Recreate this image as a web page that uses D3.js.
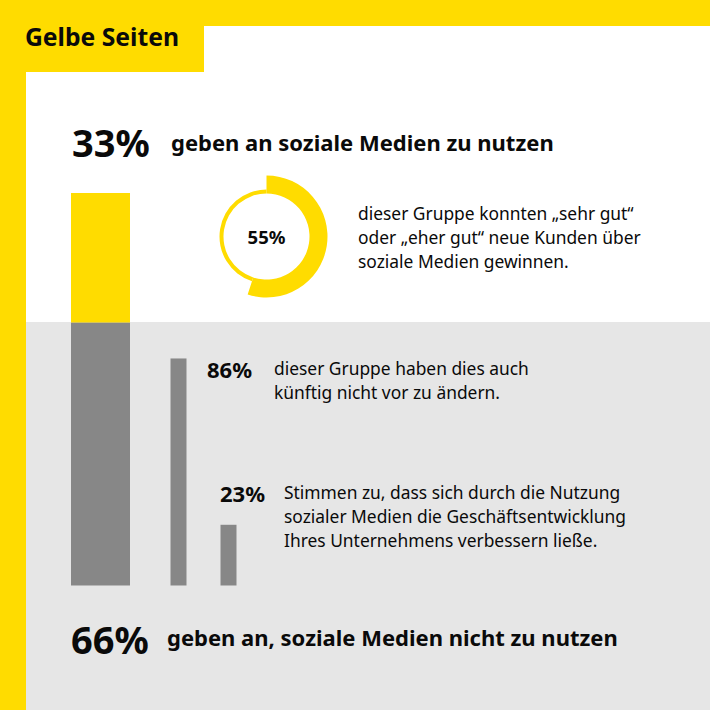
<!DOCTYPE html>
<html>
<head>
<meta charset="utf-8">
<script src="https://cdn.jsdelivr.net/npm/d3@7"></script>
<style>
  html, body { margin: 0; padding: 0; background: #fff; }
  text { font-family: "Noto Sans", sans-serif; fill: #0a0a0a; }
</style>
</head>
<body>
<div id="chart"></div>
<script>
'use strict'
/* global d3 */

// Values
const mainLabels = ['33%', '66%']
const mainValues = [33, 66]
const mainTexts = ['geben an soziale Medien zu nutzen', 'geben an, soziale Medien nicht zu nutzen']
const donutValues = [55, 45]
const donutLabel = '55%'
const donutLines = ['dieser Gruppe konnten „sehr gut“', 'oder „eher gut“ neue Kunden über', 'soziale Medien gewinnen.']
const subValues = [86, 23]
const subLabels = ['86%', '23%']
const subLines = [
  ['dieser Gruppe haben dies auch', 'künftig nicht vor zu ändern.'],
  ['Stimmen zu, dass sich durch die Nutzung', 'sozialer Medien die Geschäftsentwicklung', 'Ihres Unternehmens verbessern ließe.']
]
const brand = 'Gelbe Seiten'

const width = 710,
  height = 710,
  yellow = '#ffdc00',
  grey = '#e6e6e6',
  barGrey = '#878787'

const svg = d3.select('#chart')
  .append('svg')
  .attr('width', width)
  .attr('height', height)
  .style('display', 'block')

// Background and frame
svg.append('rect').attr('x', 26).attr('y', 322).attr('width', width - 26).attr('height', height - 322).attr('fill', grey)
svg.append('rect').attr('width', width).attr('height', 26).attr('fill', yellow)
svg.append('rect').attr('width', 26).attr('height', height).attr('fill', yellow)
svg.append('rect').attr('width', 204).attr('height', 72).attr('fill', yellow)

svg.append('text').attr('x', 25).attr('y', 46).attr('font-size', 24.7).attr('font-weight', 700).text(brand)

// Stacked main bar
const baseline = 585.5
const total = d3.sum(mainValues)
const yMain = d3.scaleLinear().domain([0, mainValues[1], total]).range([baseline, 322.7, 193])
svg.append('rect')
  .attr('x', 71).attr('width', 59)
  .attr('y', yMain(total)).attr('height', yMain(mainValues[1]) - yMain(total))
  .attr('fill', yellow)
svg.append('rect')
  .attr('x', 71).attr('width', 59)
  .attr('y', yMain(mainValues[1])).attr('height', baseline - yMain(mainValues[1]))
  .attr('fill', barGrey)

// Sub bars are shares of the grey part
const ySub = d3.scaleLinear().domain([0, 100]).range([baseline, 321.5])
const xSub = [170.5, 220.5]
svg.selectAll('rect.sub')
  .data(subValues)
  .enter()
  .append('rect')
  .attr('class', 'sub')
  .attr('x', (d, i) => xSub[i])
  .attr('width', 16)
  .attr('y', d => ySub(d))
  .attr('height', d => baseline - ySub(d))
  .attr('fill', barGrey)

// Donut
const donut = svg.append('g').attr('transform', 'translate(266.5,236.5)')
const pie = d3.pie().sort(null)
const arcs = pie(donutValues)
const radii = [[43, 61], [43, 47]]
donut.selectAll('path')
  .data(arcs)
  .enter()
  .append('path')
  .attr('d', (d, i) => d3.arc().innerRadius(radii[i][0]).outerRadius(radii[i][1])(d))
  .attr('fill', yellow)
donut.append('text').attr('y', 7.5).attr('text-anchor', 'middle').attr('font-size', 18.5).attr('font-weight', 700).text(donutLabel)

// Big percentages and headlines
const headPos = [[72, 157, 171, 151], [71, 654, 167, 646]]
mainLabels.forEach((label, i) => {
  svg.append('text').attr('x', headPos[i][0]).attr('y', headPos[i][1]).attr('font-size', 38).attr('font-weight', 700).text(label)
  svg.append('text').attr('x', headPos[i][2]).attr('y', headPos[i][3]).attr('font-size', 22).attr('font-weight', 700).text(mainTexts[i])
})

// Small labels and paragraphs
const subLabelPos = [[207, 378], [220, 502]]
subLabels.forEach((label, i) => {
  svg.append('text').attr('x', subLabelPos[i][0]).attr('y', subLabelPos[i][1]).attr('font-size', 22).attr('font-weight', 700).text(label)
})

const paragraph = (lines, x, y, step) => {
  svg.append('g').selectAll('text')
    .data(lines)
    .enter()
    .append('text')
    .attr('x', x)
    .attr('y', (d, i) => y + i * step)
    .attr('font-size', 17.4)
    .text(d => d)
}
paragraph(donutLines, 358, 219.5, 24)
paragraph(subLines[0], 274, 375, 24)
paragraph(subLines[1], 284, 499, 24)
</script>
</body>
</html>
